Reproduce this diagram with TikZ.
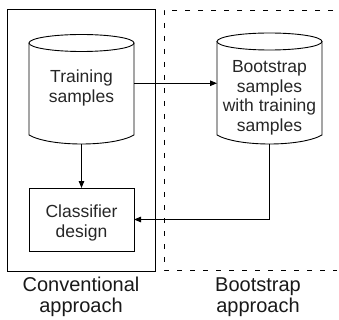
\documentclass[tikz,border=0pt]{standalone}
\usepackage{fontspec}
\setmainfont{Liberation Sans}
\usetikzlibrary{arrows.meta}
\begin{document}
\begin{tikzpicture}[x=1pt,y=-1pt,
  ln/.style={draw=black, line width=0.9pt},
  arr/.style={draw=black, line width=0.9pt, -{Triangle[length=7pt,width=5.5pt]}},
  body/.style={inner sep=0pt, outer sep=0pt},
  txt/.style={font=\fontsize{17.5}{19.5}\selectfont, align=center, text=black!85, inner sep=0pt},
  lbl/.style={font=\fontsize{20}{21}\selectfont, align=center, text=black!90, inner sep=0pt},
  dsh/.style={draw=black, line width=0.9pt, dash pattern=on 5pt off 8pt}]
\useasboundingbox (0,0) rectangle (339,320);
% outer boxes
\node[draw=black, line width=1pt, body, minimum width=148pt, minimum height=261pt, anchor=north west] (conv) at (7,10) {};
\draw[dsh] (333,10) -- (164,10) -- (164,270) -- (337,270);
% training cylinder
\node[body, minimum width=105pt, minimum height=109.5pt] (train) at (81.5,89.25) {};
\draw[ln] (29,43) -- (29,135) .. controls (50,147) and (113,147) .. (134,135) -- (134,43);
\draw[ln] (81.5,43) ellipse [x radius=52.5, y radius=8.5];
\node[txt] (traintxt) at (81.5,88) {Training\\samples};
% bootstrap cylinder
\node[body, minimum width=105pt, minimum height=111pt] (boot) at (269.5,88.5) {};
\draw[ln] (217,41.5) -- (217,135) .. controls (238,147) and (301,147) .. (322,135) -- (322,41.5);
\draw[ln] (269.5,41.5) ellipse [x radius=52.5, y radius=8.5];
\node[txt] (boottxt) at (269.5,98) {Bootstrap\\samples\\with training\\samples};
% classifier
\node[draw=black, line width=0.9pt, body, minimum width=105pt, minimum height=63pt] (cls) at (81.5,219.5) {};
\node[txt] (clstxt) at (81.5,223) {Classifier\\design};
% connectors
\draw[arr] ([yshift=6pt]train.east) -- ([yshift=6pt]train.east -| boot.west);
\draw[arr] (train.south) -- (cls.north);
\draw[arr] (boot.south) |- (cls.east);
% labels
\node[lbl] (l1) at (81,297) {Conventional\\approach};
\node[lbl] (l2) at (258,297) {Bootstrap\\approach};
\end{tikzpicture}
\end{document}
